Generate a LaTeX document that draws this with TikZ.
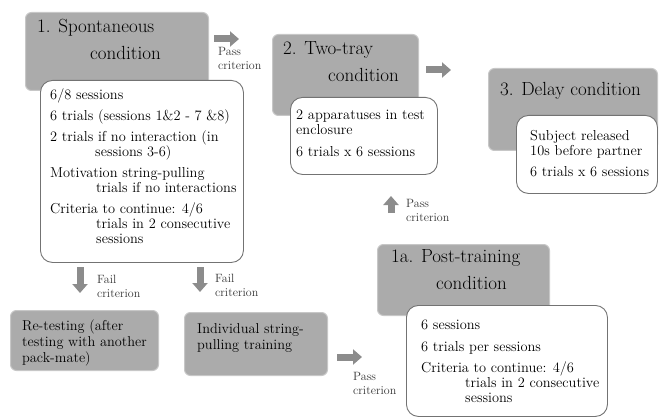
\documentclass[tikz,border=0pt]{standalone}
\usepackage{tikz}
\usetikzlibrary{arrows.meta,positioning}

\begin{document}
\begin{tikzpicture}
  [
    x=1pt, y=-1pt,
    Head/.style={draw=black!22, fill=black!33, line width=1pt, rounded corners=6pt, anchor=north west, inner sep=0pt},
    Body/.style={draw=black!55, fill=white, line width=0.9pt, rounded corners=12pt, anchor=north west, inner sep=0pt},
    Title/.style={anchor=north west, yshift=18.9pt, inner sep=0pt, align=left, execute at begin node=\strut, font=\fontsize{19}{27}\selectfont},
    Items/.style={anchor=north west, yshift=10.5pt, inner sep=0pt, align=left, execute at begin node=\strut, font=\fontsize{14.4}{15}\selectfont},
    Boxtext/.style={anchor=north west, yshift=11.2pt, inner sep=0pt, align=left, execute at begin node=\strut, font=\fontsize{14.3}{16}\selectfont},
    Crit/.style={anchor=north west, yshift=10.15pt, inner sep=0pt, align=left, execute at begin node=\strut, text=black!80, font=\fontsize{12}{14.5}\selectfont},
    Block/.style={draw=black!45, line width=7pt, -{Triangle[length=9pt, width=15pt]}}
  ]
  \useasboundingbox (0,0) rectangle (664,417);

  % Boxes
  \node[Head, minimum width=183pt, minimum height=78pt] (head1) at (25,12) {};
  \node[Body, minimum width=203pt, minimum height=182pt] (body1) at (40,80) {};
  \node[Head, minimum width=146pt, minimum height=81pt] (head2) at (272,34) {};
  \node[Body, minimum width=147pt, minimum height=77pt] (body2) at (290,97) {};
  \node[Head, minimum width=169pt, minimum height=82pt] (head3) at (488,68) {};
  \node[Body, minimum width=141pt, minimum height=78pt] (body3) at (516,115) {};
  \node[Head, minimum width=172pt, minimum height=71pt] (head1a) at (377,244) {};
  \node[Body, minimum width=201pt, minimum height=111pt] (body1a) at (406,305) {};
  \node[Head, minimum width=148pt, minimum height=60pt] (retest) at (10,310) {};
  \node[Head, minimum width=143pt, minimum height=63pt] (indiv) at (184,312) {};

  % Titles
  \node[Title] (t1) at (37,38) {1. Spontaneous\\\hspace*{53pt}condition};
  \node[Title] (t2) at (283,60) {2. Two-tray\\\hspace*{45pt}condition};
  \node[Title] (t3) at (500,95) {3. Delay condition};
  \node[Title] (t1a) at (391,268) {1a. Post-training\\\hspace*{45pt}condition};
  \node[Boxtext] (r1) at (22,331) {Re-testing (after\\testing with another\\pack-mate)};
  \node[Boxtext] (i1) at (197,335) {Individual string-\\pulling training};

  % Items
  \node[Items] (l1) at (50,99) {6/8 sessions\\[6pt]
    6 trials (sessions 1\&2 - 7 \&8)\\[6pt]
    2 trials if no interaction (in\\\hspace*{45pt}sessions 3-6)\\[6pt]
    Motivation string-pulling\\\hspace*{46pt}trials if no interactions\\[6pt]
    Criteria to continue: 4/6\\\hspace*{46pt}trials in 2 consecutive\\\hspace*{46pt}sessions};
  \node[Items] (l2) at (296,120) {2 apparatuses in test\\enclosure\\[7pt]6 trials x 6 sessions};
  \node[Items] (l3) at (530,141) {Subject released\\10s before partner\\[6pt]6 trials x 6 sessions};
  \node[Items] (l1a) at (421,330) {6 sessions\\[7pt]6 trials per sessions\\[6pt]
    Criteria to continue: 4/6\\\hspace*{44pt}trials in 2 consecutive\\\hspace*{44pt}sessions};

  % Arrows
  \coordinate (a1s) at (214,39);  \coordinate (a1e) at (239,39);
  \coordinate (a2s) at (426,70);  \coordinate (a2e) at (451,70);
  \coordinate (a3s) at (391,213); \coordinate (a3e) at (391,196);
  \coordinate (a4s) at (80,267);  \coordinate (a4e) at (80,293);
  \coordinate (a5s) at (200,267); \coordinate (a5e) at (200,292);
  \coordinate (a6s) at (337,357); \coordinate (a6e) at (362,357);
  \draw[Block] (a1s) -- (a1e);
  \draw[Block] (a2s) -- (a2e);
  \draw[Block] (a3s) -- (a3e);
  \draw[Block] (a4s) -- (a4e);
  \draw[Block] (a5s) -- (a5e);
  \draw[Block] (a6s) -- (a6e);

  \node[Crit] (c1) at (218,57) {Pass\\criterion};
  \node[Crit] (c2) at (406,209) {Pass\\criterion};
  \node[Crit] (c3) at (97,285) {Fail\\criterion};
  \node[Crit] (c4) at (215,284) {Fail\\criterion};
  \node[Crit] (c5) at (353,382) {Pass\\criterion};

\end{tikzpicture}
\end{document}
